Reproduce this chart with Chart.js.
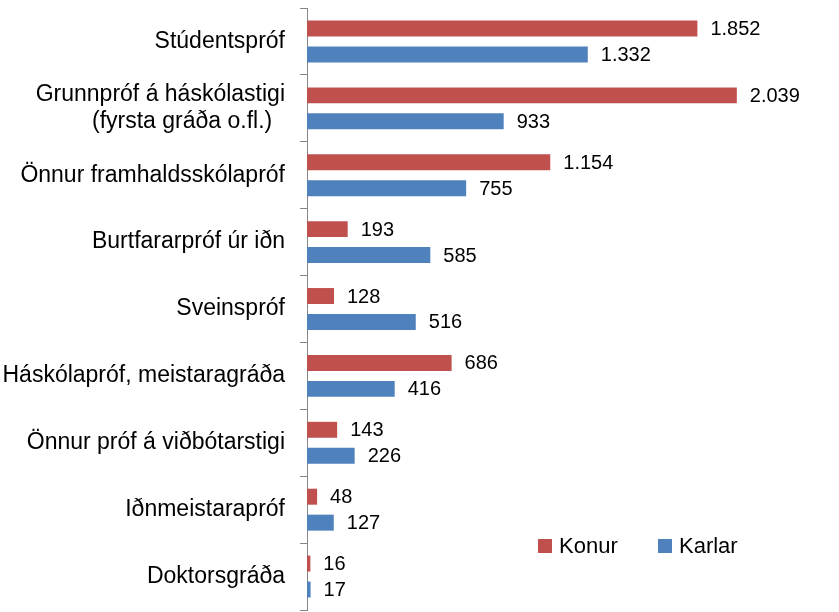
<!DOCTYPE html>
<html lang="is">
<head>
<meta charset="UTF-8">
<title>Menntun eftir kyni</title>
<script src="https://cdn.jsdelivr.net/npm/chart.js"></script>
<style>
  body { margin: 0; background: #fff; }
  #wrap { width: 839px; height: 612px; }
</style>
</head>
<body>
<div id="wrap"><canvas id="chart" width="839" height="612"></canvas></div>
<script>
// Data (top to bottom)
const categories = [
    'Stúdentspróf',
    ['Grunnpróf á háskólastigi', '(fyrsta gráða o.fl.)  '],
    'Önnur framhaldsskólapróf',
    'Burtfararpróf úr iðn',
    'Sveinspróf',
    'Háskólapróf, meistaragráða',
    'Önnur próf á viðbótarstigi',
    'Iðnmeistarapróf',
    'Doktorsgráða'
];
const konur = [1852, 2039, 1154, 193, 128, 686, 143, 48, 16];
const karlar = [1332, 933, 755, 585, 516, 416, 226, 127, 17];

const RED = '#C0504D';
const BLUE = '#4F81BD';
const FONT = "'Liberation Sans', Arial, sans-serif";

// Icelandic thousands separator
function fmt(v) {
    return String(v).replace(/\B(?=(\d{3})+(?!\d))/g, '.');
}

const valueLabels = {
    id: 'valueLabels',
    afterDatasetsDraw(chart) {
        const ctx = chart.ctx;
        ctx.save();
        ctx.font = '20px ' + FONT;
        ctx.fillStyle = '#000';
        ctx.textAlign = 'left';
        ctx.textBaseline = 'middle';
        chart.data.datasets.forEach((ds, i) => {
            chart.getDatasetMeta(i).data.forEach((bar, j) => {
                ctx.fillText(fmt(ds.data[j]), bar.x + 13, bar.y + 1);
            });
        });
        ctx.restore();
    }
};

const innerLegend = {
    id: 'innerLegend',
    afterDraw(chart) {
        const ctx = chart.ctx;
        const spots = [538, 658];
        ctx.save();
        ctx.font = '22px ' + FONT;
        ctx.textBaseline = 'middle';
        ctx.textAlign = 'left';
        chart.data.datasets.forEach((ds, i) => {
            ctx.fillStyle = ds.backgroundColor;
            ctx.fillRect(spots[i], 539, 14, 14);
            ctx.fillStyle = '#000';
            ctx.fillText(ds.label, spots[i] + 21, 547);
        });
        ctx.restore();
    }
};

new Chart(document.getElementById('chart'), {
    type: 'bar',
    data: {
        labels: categories,
        datasets: [{
            label: 'Konur',
            data: konur,
            backgroundColor: RED,
            categoryPercentage: 0.776,
            barPercentage: 0.615
        }, {
            label: 'Karlar',
            data: karlar,
            backgroundColor: BLUE,
            categoryPercentage: 0.776,
            barPercentage: 0.615
        }]
    },
    options: {
        indexAxis: 'y',
        responsive: false,
        animation: false,
        layout: { padding: { top: 8, bottom: 2, right: 5, left: 0 } },
        plugins: {
            legend: { display: false },
            tooltip: { enabled: false }
        },
        scales: {
            x: {
                display: false,
                min: 0,
                max: 2500
            },
            y: {
                afterFit(scale) {
                    scale.width = 307;
                    scale.paddingTop = 0;
                    scale.paddingBottom = 0;
                },
                border: { color: '#868686', width: 1 },
                grid: {
                    drawOnChartArea: false,
                    drawTicks: true,
                    tickLength: 7,
                    color: '#868686'
                },
                ticks: {
                    color: '#000',
                    padding: 15,
                    font: { family: FONT, size: 23, lineHeight: 1.2 }
                }
            }
        }
    },
    plugins: [valueLabels, innerLegend]
});
</script>
</body>
</html>
